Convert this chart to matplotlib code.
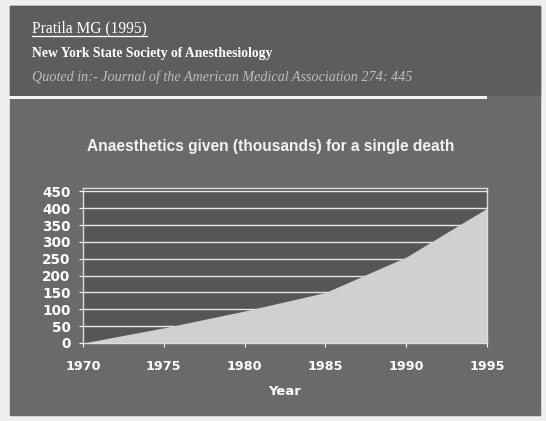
import numpy as np
import matplotlib
matplotlib.use("Agg")
import matplotlib.pyplot as plt
from matplotlib.patches import Rectangle

# anaesthetics given (thousands) per single death
years = [1970, 1975, 1980, 1985, 1990, 1995]
per_death = [0, 45, 95, 150, 255, 400]
yticks = [0, 50, 100, 150, 200, 250, 300, 350, 400, 450]

W, H = 546, 421


def main():
    fig = plt.figure(figsize=(W / 100, H / 100), dpi=100)
    fig.patch.set_facecolor("#efefef")

    # slide body and header band
    fig.add_artist(Rectangle((10 / W, 6 / H), 530 / W, 409 / H,
                             transform=fig.transFigure, color="#6a6a6a", zorder=0))
    fig.add_artist(Rectangle((10 / W, (H - 95) / H), 530 / W, 89 / H,
                             transform=fig.transFigure, color="#5d5d5d", zorder=0))
    fig.add_artist(plt.Line2D([10 / W, 485 / W], [(H - 97) / H] * 2,
                              transform=fig.transFigure, color="#f4f4f4", lw=2.2))

    serif = "Liberation Serif"
    fig.text(32 / W, 1 - 28 / H, "Pratila MG (1995)", family=serif, fontsize=11.2,
             color="white", va="center", ha="left")
    fig.add_artist(plt.Line2D([32 / W, 147 / W], [1 - 36 / H] * 2,
                              transform=fig.transFigure, color="white", lw=0.9))
    fig.text(32 / W, 1 - 54 / H, "New York State Society of Anesthesiology",
             family=serif, fontsize=9.8, color="white", weight="bold",
             va="center", ha="left")
    fig.text(32 / W, 1 - 77 / H,
             "Quoted in:- Journal of the American Medical Association 274: 445",
             family=serif, fontsize=10.2, color="#bdbdbd", style="italic",
             va="center", ha="left")

    fig.text(271 / W, 1 - 147 / H, "Anaesthetics given (thousands) for a single death",
             family="Liberation Sans", weight="bold", fontsize=11.2,
             color="#f2f2f2", ha="center", va="center")

    ax = fig.add_axes([83 / W, (H - 343) / H, 404 / W, 155 / H])
    ax.set_facecolor("#565656")
    ax.fill_between(years, per_death, 0, color="#d0d0d0", lw=0, zorder=2)
    for v in yticks[1:]:
        ax.axhline(v, color="#e6e6e6", lw=1.0, zorder=1)
    ax.set_xlim(years[0], years[-1])
    ax.set_ylim(0, 460)
    ax.set_yticks(yticks)
    ax.set_xticks(years)
    for s in ax.spines.values():
        s.set_color("#dddddd")
        s.set_linewidth(1.0)
    ax.tick_params(axis="y", colors="white", length=3, labelsize=9.8, pad=6)
    ax.tick_params(axis="x", colors="white", length=3, labelsize=9.2, pad=9)
    for lab in ax.get_xticklabels() + ax.get_yticklabels():
        lab.set_fontweight("bold")
        lab.set_family("DejaVu Sans")
        lab.set_color("white")
    ax.set_xlabel("Year", color="white", fontweight="bold", fontsize=9.5,
                  family="DejaVu Sans", labelpad=9)

    plt.savefig("out.png", dpi=100, facecolor=fig.get_facecolor())


if __name__ == "__main__":
    main()
